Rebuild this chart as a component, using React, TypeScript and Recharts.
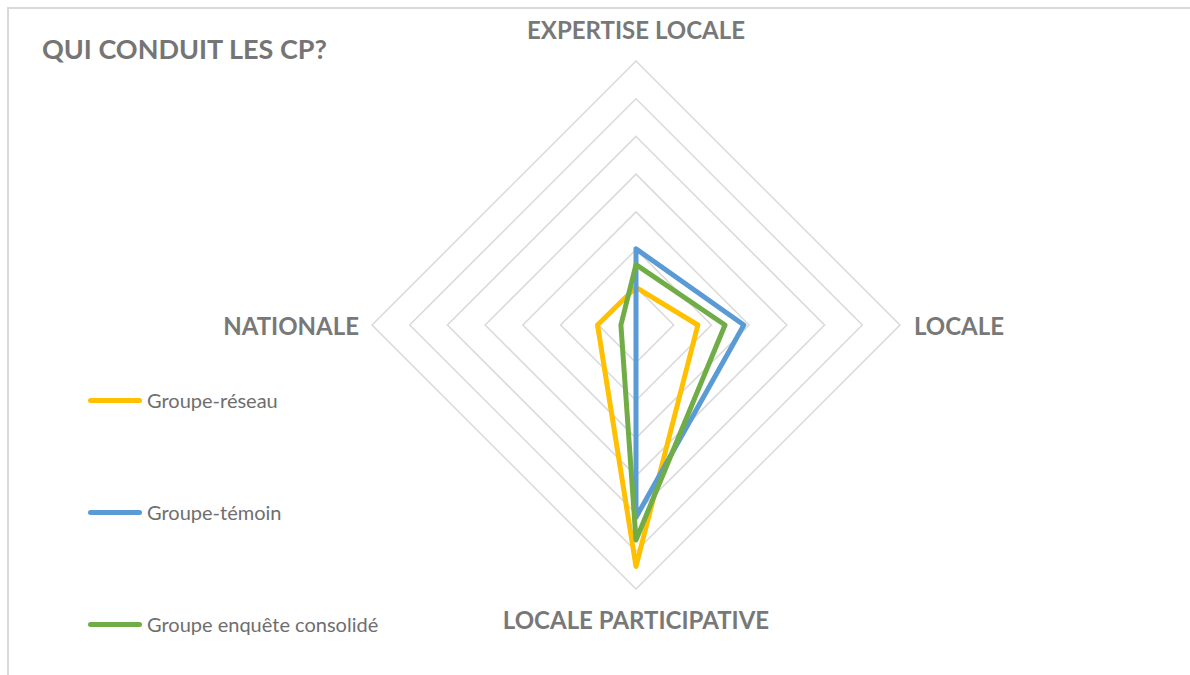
import React from 'react';
import { RadarChart, Radar, PolarGrid, PolarAngleAxis, PolarRadiusAxis, Legend } from 'recharts';

const categories = ['EXPERTISE LOCALE', 'LOCALE', 'LOCALE PARTICIPATIVE', 'NATIONALE'];
const reseau = [5, 8.2, 32, 5.1];
const temoin = [10.1, 14.3, 25.5, 0];
const enquete = [8, 11.8, 28.5, 2];

const series = [
    { key: 'reseau', name: 'Groupe-réseau', color: '#FFC000' },
    { key: 'temoin', name: 'Groupe-témoin', color: '#5B9BD5' },
    { key: 'enquete', name: 'Groupe enquête consolidé', color: '#70AD47' },
];

const data = categories.map((name, i) => ({
    name,
    reseau: reseau[i],
    temoin: temoin[i],
    enquete: enquete[i],
}));

const FONT = 'Lato, "Open Sans", sans-serif';

const AngleTick = (props: any) => {
    const { x, y, payload, index } = props;
    // nudge each label out from its vertex like the original layout
    const offsets = [
        { dx: 0, dy: -24, anchor: 'middle' },
        { dx: 6, dy: 0, anchor: 'start' },
        { dx: 0, dy: 22, anchor: 'middle' },
        { dx: -5, dy: 0, anchor: 'end' },
    ];
    const o = offsets[index] || offsets[0];
    return (
        <text x={x + o.dx} y={y + o.dy} textAnchor={o.anchor} dominantBaseline="central"
            fill="#787878" fontFamily={FONT} fontWeight={700} fontSize={24}>
            {payload.value}
        </text>
    );
};

const LegendContent = () => (
    <div style={{ fontFamily: FONT }}>
        {series.map((s) => (
            <div key={s.key} style={{ display: 'flex', alignItems: 'center', height: 112 }}>
                <div style={{ width: 54, height: 5, borderRadius: 3, background: s.color, marginRight: 5 }} />
                <span style={{ color: '#6e6e6e', fontSize: 20 }}>{s.name}</span>
            </div>
        ))}
    </div>
);

export default function App() {
    return (
        <div style={{ position: 'absolute', left: 0, top: 0, width: 1190, height: 675, background: '#fff', overflow: 'hidden' }}>
            <div style={{ position: 'absolute', left: 7, top: 7, width: 1200, height: 700, borderTop: '2px solid #d9d9d9', borderLeft: '2px solid #d9d9d9' }} />
            <div style={{ position: 'absolute', left: 42, top: 32, fontFamily: FONT, fontWeight: 700, fontSize: 27, color: '#757575' }}>
                QUI CONDUIT LES CP?
            </div>
            <div style={{ position: 'absolute', left: 0, top: 0 }}>
                <RadarChart width={1190} height={675} data={data} cx={636} cy={325} outerRadius={264}
                    margin={{ top: 0, right: 0, bottom: 0, left: 0 }}>
                    <PolarGrid gridType="polygon" radialLines={false} stroke="#d9d9d9" strokeWidth={1.5} />
                    <PolarAngleAxis dataKey="name" tick={<AngleTick />} tickLine={false} axisLine={false} />
                    <PolarRadiusAxis domain={[0, 35]} tickCount={8} tick={false} axisLine={false} />
                    {series.map((s) => (
                        <Radar key={s.key} name={s.name} dataKey={s.key} stroke={s.color} strokeWidth={5}
                            strokeLinejoin="round" fill="none" fillOpacity={0} isAnimationActive={false} />
                    ))}
                    <Legend content={<LegendContent />} layout="vertical"
                        wrapperStyle={{ position: 'absolute', left: 88, top: 344, width: 360 }} />
                </RadarChart>
            </div>
        </div>
    );
}
